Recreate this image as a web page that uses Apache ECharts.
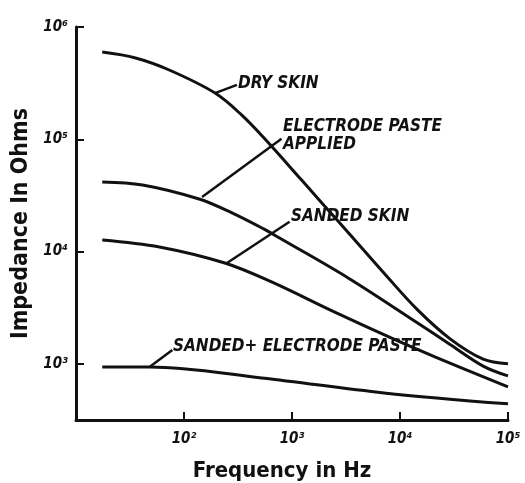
<!DOCTYPE html>
<html>
<head>
<meta charset="utf-8">
<script src="https://cdn.jsdelivr.net/npm/echarts@6/dist/echarts.min.js"></script>
<style>
  html, body { margin: 0; padding: 0; background: #fff; }
  #chart { width: 525px; height: 483px; }
</style>
</head>
<body>
<div id="chart"></div>
<script>
// impedance vs frequency (Hz, Ohms)
var drySkinFreq = [17.5, 35.6, 73, 194, 343, 559, 1222, 1990, 3311, 7096, 14560, 29300, 58900, 100000];
var drySkinZ    = [598000, 530000, 414000, 258000, 164000, 101000, 43500, 25600, 14800, 6440, 3020, 1660, 1100, 1000];

var pasteFreq = [17.5, 41.3, 138, 278, 547, 767, 3311, 14560, 29300, 58900, 100000];
var pasteZ    = [41700, 39200, 29400, 22100, 15900, 13200, 5820, 2310, 1480, 955, 780];

var sandedFreq = [17.5, 59.2, 239, 647, 2460, 8770, 21300, 100000];
var sandedZ    = [12700, 11000, 7910, 5360, 2900, 1660, 1150, 622];

var sandPasteFreq = [17.5, 47.9, 525, 7100, 100000];
var sandPasteZ    = [937, 937, 748, 551, 440];

// leader lines: [from curve, to label]
var leaders = [
	[[194, 258000], [309, 305000]],
	[[147, 30600], [800, 101000]],
	[[250, 7910], [949, 18400]],
	[[47.9, 937], [78, 1330]]
];

var supers = { 2: '\u00b2', 3: '\u00b3', 4: '\u2074', 5: '\u2075', 6: '\u2076' };
function powLabel(v) {
	var p = Math.round(Math.log10(v));
	if (Math.abs(Math.log10(v) - p) > 0.01 || !supers[p]) return '';
	return '10' + supers[p];
}

function pairs(xs, ys) {
	var out = [];
	for (var i = 0; i < xs.length; i++) out.push([xs[i], ys[i]]);
	return out;
}

var ink = '#111';
var font = "'DejaVu Sans Condensed', 'DejaVu Sans', sans-serif";

function curve(name, xs, ys) {
	return {
		name: name,
		type: 'line',
		smooth: 0.35,
		symbol: 'none',
		lineStyle: { color: ink, width: 3 },
		data: pairs(xs, ys)
	};
}

var series = [
	curve('Dry skin', drySkinFreq, drySkinZ),
	curve('Electrode paste applied', pasteFreq, pasteZ),
	curve('Sanded skin', sandedFreq, sandedZ),
	curve('Sanded + electrode paste', sandPasteFreq, sandPasteZ)
];
series[0].markLine = {
	silent: true,
	symbol: 'none',
	label: { show: false },
	lineStyle: { color: ink, width: 2.5, type: 'solid' },
	data: leaders.map(function(l) {
		return [{ coord: l[0] }, { coord: l[1] }];
	})
};

var labelStyle = function(text, x, y) {
	return {
		type: 'text',
		left: x,
		top: y,
		style: {
			text: text,
			fill: ink,
			font: "italic bold 17px " + font,
			lineHeight: 18
		}
	};
};

var chart = echarts.init(document.getElementById('chart'));
var option = {
	backgroundColor: '#fff',
	animation: false,
	grid: { left: 76, right: 17, top: 27, bottom: 63, containLabel: false, outerBoundsMode: 'none' },
	xAxis: {
		type: 'log',
		min: 10,
		max: 100000,
		name: 'Frequency in Hz',
		nameLocation: 'middle',
		nameGap: 40,
		nameTextStyle: { color: ink, fontSize: 22, fontWeight: 'bold', fontFamily: font, padding: [0, 20, 0, 0] },
		axisLine: { lineStyle: { color: ink, width: 3 } },
		axisTick: { inside: true, length: 8, lineStyle: { color: ink, width: 2 } },
		splitLine: { show: false },
		axisLabel: {
			color: ink,
			fontSize: 15,
			fontStyle: 'italic',
			fontWeight: 'bold',
			fontFamily: font,
			margin: 12,
			formatter: function(v) { return v <= 10 ? '' : powLabel(v); }
		}
	},
	yAxis: {
		type: 'log',
		min: 316,
		max: 1000000,
		name: 'Impedance In Ohms',
		nameLocation: 'middle',
		nameGap: 41,
		nameRotate: 90,
		nameTextStyle: { color: ink, fontSize: 23, fontWeight: 'bold', fontFamily: font },
		axisLine: { lineStyle: { color: ink, width: 3 } },
		axisTick: { inside: true, length: 8, lineStyle: { color: ink, width: 2 } },
		splitLine: { show: false },
		axisLabel: {
			color: ink,
			fontSize: 15,
			fontStyle: 'italic',
			fontWeight: 'bold',
			fontFamily: font,
			margin: 8,
			formatter: powLabel
		}
	},
	graphic: [
		labelStyle('DRY SKIN', 238, 75),
		labelStyle('ELECTRODE PASTE\nAPPLIED', 283, 118),
		labelStyle('SANDED SKIN', 291, 208),
		labelStyle('SANDED+ ELECTRODE PASTE', 173, 338)
	],
	series: series
};
chart.setOption(option);
</script>
</body>
</html>
